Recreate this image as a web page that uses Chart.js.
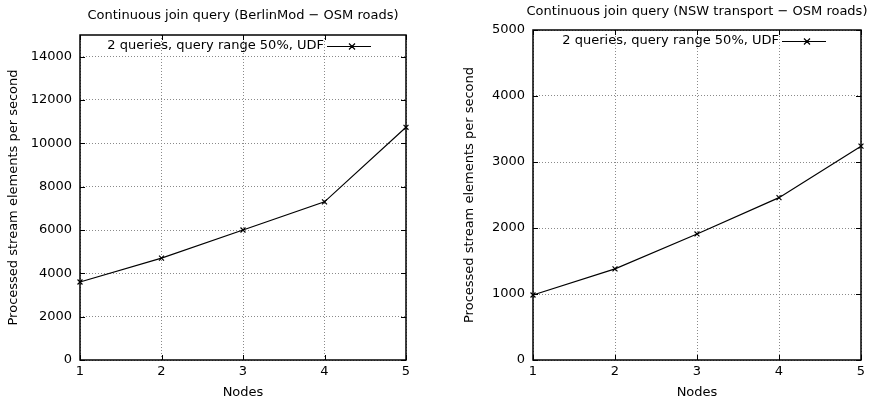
<!DOCTYPE html>
<html><head><meta charset="utf-8">
<script src="https://cdn.jsdelivr.net/npm/chart.js@4/dist/chart.umd.min.js"></script>
<style>
html,body{margin:0;padding:0;background:#fff;overflow:hidden}
#wrap{display:flex;width:874px;height:401px}
.c{position:relative;width:437px;height:401px}
</style></head><body>
<div id="wrap"><div class="c"><canvas id="c1"></canvas></div><div class="c"><canvas id="c2"></canvas></div></div>
<script>
// ---- data ----
const nodes = [1, 2, 3, 4, 5];
const berlinValues = [3600, 4700, 6000, 7300, 10740];
const nswValues = [985, 1380, 1910, 2460, 3240];
const berlinYTicks = [0, 2000, 4000, 6000, 8000, 10000, 12000, 14000];
const nswYTicks = [0, 1000, 2000, 3000, 4000, 5000];
const berlinTitle = 'Continuous join query (BerlinMod \u2212 OSM roads)';
const nswTitle = 'Continuous join query (NSW transport \u2212 OSM roads)';
const seriesLabel = '2 queries, query range 50%, UDF';
const xTitle = 'Nodes';
const yTitle = 'Processed stream elements per second';

const FONT = 'DejaVu Sans';
const FS = 13;
const fontMain = {family: FONT, size: FS};

const framePlugin = {
  id: 'frame',
  afterDraw(chart, args, opts) {
    const ctx = chart.ctx, a = chart.chartArea;
    const xs = chart.scales.x, ys = chart.scales.y;
    ctx.save();
    // title
    ctx.fillStyle = '#000';
    ctx.font = FS + 'px "' + FONT + '"';
    ctx.textAlign = 'center'; ctx.textBaseline = 'middle';
    ctx.fillText(opts.title, (a.left + a.right) / 2, opts.titleY);
    // frame
    ctx.strokeStyle = '#000'; ctx.lineWidth = 1.5;
    ctx.strokeRect(a.left, a.top, a.right - a.left, a.bottom - a.top);
    // inward ticks
    ctx.lineWidth = 1;
    ctx.beginPath();
    const tl = 5;
    xs.ticks.forEach(t => {
      const px = Math.round(xs.getPixelForValue(t.value)) + 0.5;
      ctx.moveTo(px, a.bottom); ctx.lineTo(px, a.bottom - tl);
      ctx.moveTo(px, a.top); ctx.lineTo(px, a.top + tl);
    });
    ys.ticks.forEach(t => {
      const py = Math.round(ys.getPixelForValue(t.value)) + 0.5;
      ctx.moveTo(a.left, py); ctx.lineTo(a.left + tl, py);
      ctx.moveTo(a.right, py); ctx.lineTo(a.right - tl, py);
    });
    ctx.stroke();
    // legend
    const ly = a.top + 11;
    const lineEnd = a.right - 35, lineStart = lineEnd - 44;
    ctx.textAlign = 'right';
    ctx.fillText(chart.data.datasets[0].label, lineStart - 3, ly);
    ctx.lineWidth = 1.2;
    ctx.beginPath();
    ctx.moveTo(lineStart, ly + 0.5); ctx.lineTo(lineEnd, ly + 0.5);
    const mx = (lineStart + lineEnd) / 2 + 3, r = 3;
    ctx.moveTo(mx - r, ly - r + 0.5); ctx.lineTo(mx + r, ly + r + 0.5);
    ctx.moveTo(mx + r, ly - r + 0.5); ctx.lineTo(mx - r, ly + r + 0.5);
    ctx.stroke();
    ctx.restore();
  }
};

function makeChart(id, values, yTicks, yMax, title, cfg) {
  return new Chart(document.getElementById(id), {
    type: 'line',
    data: {
      datasets: [{
        label: seriesLabel,
        data: nodes.map((n, i) => ({x: n, y: values[i]})),
        borderColor: '#000', borderWidth: 1.2, tension: 0,
        pointStyle: 'crossRot', pointRadius: 3.5, pointBorderWidth: 1.2,
        pointBorderColor: '#000', pointBackgroundColor: '#000',
        fill: false, clip: false
      }]
    },
    plugins: [framePlugin],
    options: {
      responsive: true, maintainAspectRatio: false, animation: false,
      layout: {padding: {top: cfg.top, right: cfg.right, left: 0, bottom: 0}},
      plugins: {
        legend: {display: false}, tooltip: {enabled: false},
        frame: {title: title, titleY: cfg.titleY}
      },
      scales: {
        x: {
          type: 'linear', min: 1, max: 5,
          afterBuildTicks: s => { s.ticks = nodes.map(v => ({value: v})); },
          afterFit: s => { s.height = 41; },
          ticks: {font: fontMain, color: '#000', padding: 4, maxRotation: 0, callback: v => String(v)},
          grid: {color: '#8a8a8a', lineWidth: 1, drawTicks: false},
          border: {display: false, dash: [1, 2]},
          title: {display: true, text: xTitle, font: fontMain, color: '#000', padding: {top: 0, bottom: 1}}
        },
        y: {
          type: 'linear', min: 0, max: yMax,
          afterBuildTicks: s => { s.ticks = yTicks.map(v => ({value: v})); },
          afterFit: s => { s.width = cfg.left; },
          ticks: {font: fontMain, color: '#000', padding: 8, callback: v => String(v)},
          grid: {color: '#8a8a8a', lineWidth: 1, drawTicks: false},
          border: {display: false, dash: [1, 2]},
          title: {display: true, text: yTitle, font: fontMain, color: '#000', padding: {top: cfg.yTitlePad, bottom: 0}}
        }
      }
    }
  });
}

makeChart('c1', berlinValues, berlinYTicks, 15000, berlinTitle, {top: 35, right: 31, left: 80, titleY: 16, yTitlePad: 6});
makeChart('c2', nswValues, nswYTicks, 5000, nswTitle, {top: 30, right: 13, left: 96, titleY: 12, yTitlePad: 25});
</script>
</body></html>
